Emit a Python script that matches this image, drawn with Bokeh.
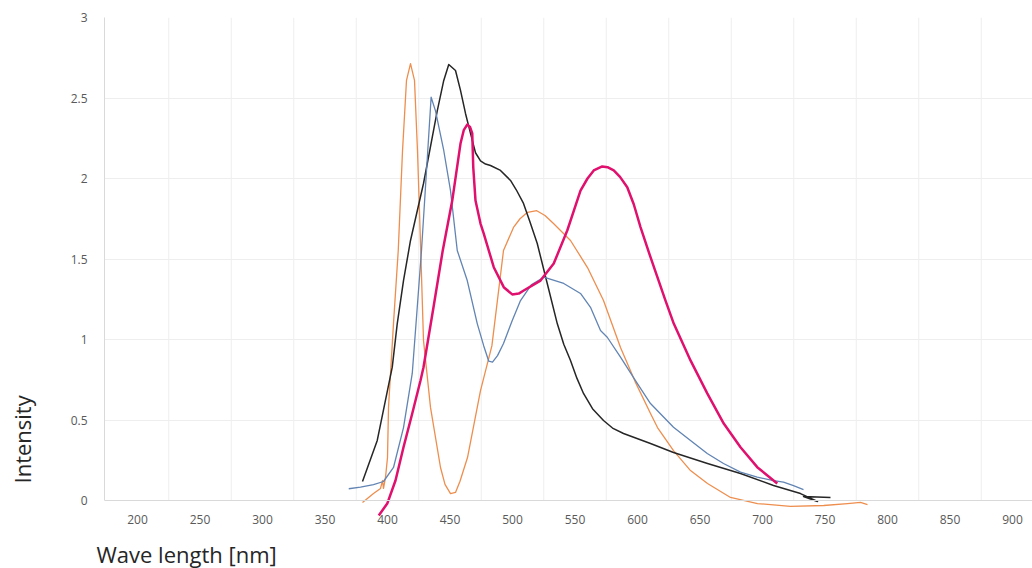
import math
from bokeh.plotting import figure
from bokeh.models import FixedTicker, Range1d, Title, LinearAxis
from bokeh.embed import file_html
from bokeh.resources import INLINE

# ---- data ----
x_ticks = [200, 250, 300, 350, 400, 450, 500, 550, 600, 650, 700, 750, 800, 850, 900]
x_grid = [225, 275, 325, 375, 425, 475, 525, 575, 625, 675, 725, 775, 825, 875, 925]
y_ticks = [0, 0.5, 1, 1.5, 2, 2.5, 3]
y_labels = ["0", "0.5", "1", "1.5", "2", "2.5", "3"]
x_title = "Wave length [nm]"
y_title = "Intensity"

orange_x = [380, 388.8, 394.4, 396, 396.8, 398.4, 400, 400.8, 404.8, 408.6, 412, 415.2, 418.4,
            421.6, 424, 426.4, 428.8, 434.4, 442.4, 446, 450.4, 454.4, 458, 464, 474.4, 483.5,
            492.8, 500.8, 506, 512, 519.4, 526, 532.8, 546.4, 560, 572.8, 586.4, 598, 610.4, 616,
            628.8, 642.4, 656, 674.4, 696, 722.4, 749, 768, 778.4, 784]
orange_y = [-0.012, 0.043, 0.075, 0.124, 0.075, 0.143, 0.267, 0.578, 1.10, 1.553, 2.17, 2.61, 2.714,
            2.61, 2.17, 1.6, 0.994, 0.578, 0.205, 0.1, 0.043, 0.05, 0.12, 0.267, 0.683, 0.96,
            1.553, 1.696, 1.75, 1.79, 1.80, 1.77, 1.72, 1.615, 1.447, 1.242, 0.95, 0.74, 0.54, 0.453,
            0.31, 0.186, 0.106, 0.019, -0.019, -0.037, -0.031, -0.019, -0.012, -0.025]

black_x = [380, 391.8, 403.8, 407.8, 412.8, 418.4, 428.8, 439.8, 445, 449, 454.4, 458.4, 462.4,
           466.4, 470.4, 474.4, 478.4, 482.4, 490.4, 498.4, 503, 508.8, 514, 519.8, 527.8, 535.8,
           541, 546.4, 551.5, 556.8, 564, 572.8, 580, 588.8, 610.4, 628.8, 656, 682.4, 708.8,
           730.4, 744, 732.8, 754.4]
black_y = [0.118, 0.373, 0.828, 1.099, 1.366, 1.615, 1.969, 2.42, 2.609, 2.708, 2.671, 2.547, 2.404,
           2.28, 2.16, 2.11, 2.09, 2.081, 2.05, 1.988, 1.93, 1.845, 1.73, 1.596, 1.348, 1.099,
           0.97, 0.87, 0.76, 0.665, 0.57, 0.497, 0.45, 0.416, 0.354, 0.298, 0.23, 0.168, 0.093,
           0.043, -0.006, 0.025, 0.019]

blue_x = [369, 378.4, 388.8, 396.8, 404.8, 412.8, 419.8, 423.8, 427.2, 434.9, 438.4, 445, 450.4,
          455.8, 463.8, 471.8, 477, 481, 484, 488, 492.8, 499.8, 506.4, 515, 525, 541, 554.4,
          562.4, 570.4, 575.8, 586.4, 599.8, 610.4, 615.8, 628.8, 642.4, 655.8, 668.8, 682.4,
          695.8, 708.8, 716.8, 724.8, 732.8]
blue_y = [0.073, 0.083, 0.099, 0.118, 0.205, 0.453, 0.789, 1.2, 1.553, 2.505, 2.42, 2.174, 1.925,
          1.553, 1.366, 1.099, 0.96, 0.865, 0.86, 0.9, 0.975, 1.118, 1.242, 1.34, 1.387, 1.348,
          1.286, 1.2, 1.056, 1.014, 0.89, 0.727, 0.602, 0.559, 0.455, 0.373, 0.292, 0.23, 0.176,
          0.145, 0.124, 0.114, 0.093, 0.068]

magenta_x = [393, 399.8, 406.4, 412.8, 419.8, 426.4, 428.8, 436.8, 444.2, 451.8, 458.4, 461,
             463.8, 466, 467.8, 468.6, 470.4, 474.4, 477, 485, 493, 499.8, 505, 509, 522.4, 533,
             543.8, 554.4, 560, 565, 571.8, 576, 581, 586, 591.8, 597, 602.4, 610.4, 622.4, 629,
             642.4, 655.8, 669, 682.4, 695.8, 711.8]
magenta_y = [-0.093, -0.019, 0.124, 0.331, 0.54, 0.745, 0.828, 1.2, 1.553, 1.863, 2.217, 2.3,
             2.335, 2.32, 2.28, 2.07, 1.863, 1.72, 1.658, 1.449, 1.325, 1.28, 1.285, 1.304, 1.366,
             1.472, 1.677, 1.925, 2.0, 2.05, 2.075, 2.07, 2.05, 2.01, 1.946, 1.84, 1.698, 1.511,
             1.242, 1.099, 0.87, 0.665, 0.478, 0.331, 0.207, 0.106]

p = figure(width=1032, height=568, output_backend="svg", toolbar_location=None,
           x_range=Range1d(173.6, 916.0), y_range=Range1d(-0.2236, 3.0),
           min_border_left=104, min_border_right=0, min_border_top=17, min_border_bottom=32)
p.outline_line_color = None
p.background_fill_color = "white"
p.border_fill_color = "white"

p.xaxis.fixed_location = 0
p.xaxis.ticker = FixedTicker(ticks=x_ticks)
p.yaxis.ticker = FixedTicker(ticks=y_ticks)
p.ygrid.ticker = FixedTicker(ticks=y_ticks)
p.yaxis.major_label_overrides = {t: l for t, l in zip(y_ticks, y_labels)}
p.yaxis.bounds = (0, 3)
p.xgrid.visible = False

for ax in p.axis:
    ax.major_tick_line_color = None
    ax.minor_tick_line_color = None
    ax.axis_line_color = "#D9D9D9"
    ax.major_label_text_color = "#595959"
    ax.major_label_text_font_size = "12px"
    ax.major_label_text_font = "Open Sans"
p.yaxis.major_label_standoff = 11
p.xaxis.major_label_standoff = 8

# invisible spacer axis (one hidden tick, empty label): pushes the y title out to the left edge
spacer = LinearAxis(ticker=FixedTicker(ticks=[y_ticks[0]], minor_ticks=[]), axis_line_color=None,
                    major_tick_line_color=None, minor_tick_line_color=None,
                    major_tick_in=0, major_tick_out=30, minor_tick_out=0,
                    major_label_standoff=0, major_label_overrides={y_ticks[0]: ""},
                    major_label_text_font_size="1px")
p.add_layout(spacer, "left")

p.ygrid.grid_line_color = "#EEEEEE"
p.ygrid.grid_line_width = 1
# vertical gridlines only over the value area (0 .. 3), as in the reference
n = len(x_grid)
p.segment(x0=x_grid, y0=[y_ticks[0]] * n, x1=x_grid, y1=[y_ticks[-1]] * n,
          line_color="#EEEEEE", line_width=1, level="underlay")

p.line(orange_x, orange_y, line_color="#EE8E4E", line_width=1.3, line_join="round")
p.line(black_x, black_y, line_color="#262626", line_width=1.5, line_join="round")
p.line(blue_x, blue_y, line_color="#6184B3", line_width=1.3, line_join="round")
p.line(magenta_x, magenta_y, line_color="#E0106E", line_width=2.5, line_join="round")

p.add_layout(Title(text=x_title, align="left", offset=-8, standoff=0,
                   text_font="Open Sans", text_font_size="22px", text_font_style="normal",
                   text_color="#262626"), "below")
p.add_layout(Title(text=y_title, align="left", offset=53, standoff=2,
                   text_font="Open Sans", text_font_size="22px", text_font_style="normal",
                   text_color="#262626"), "left")

open("out.html", "w").write(file_html(p, INLINE))
